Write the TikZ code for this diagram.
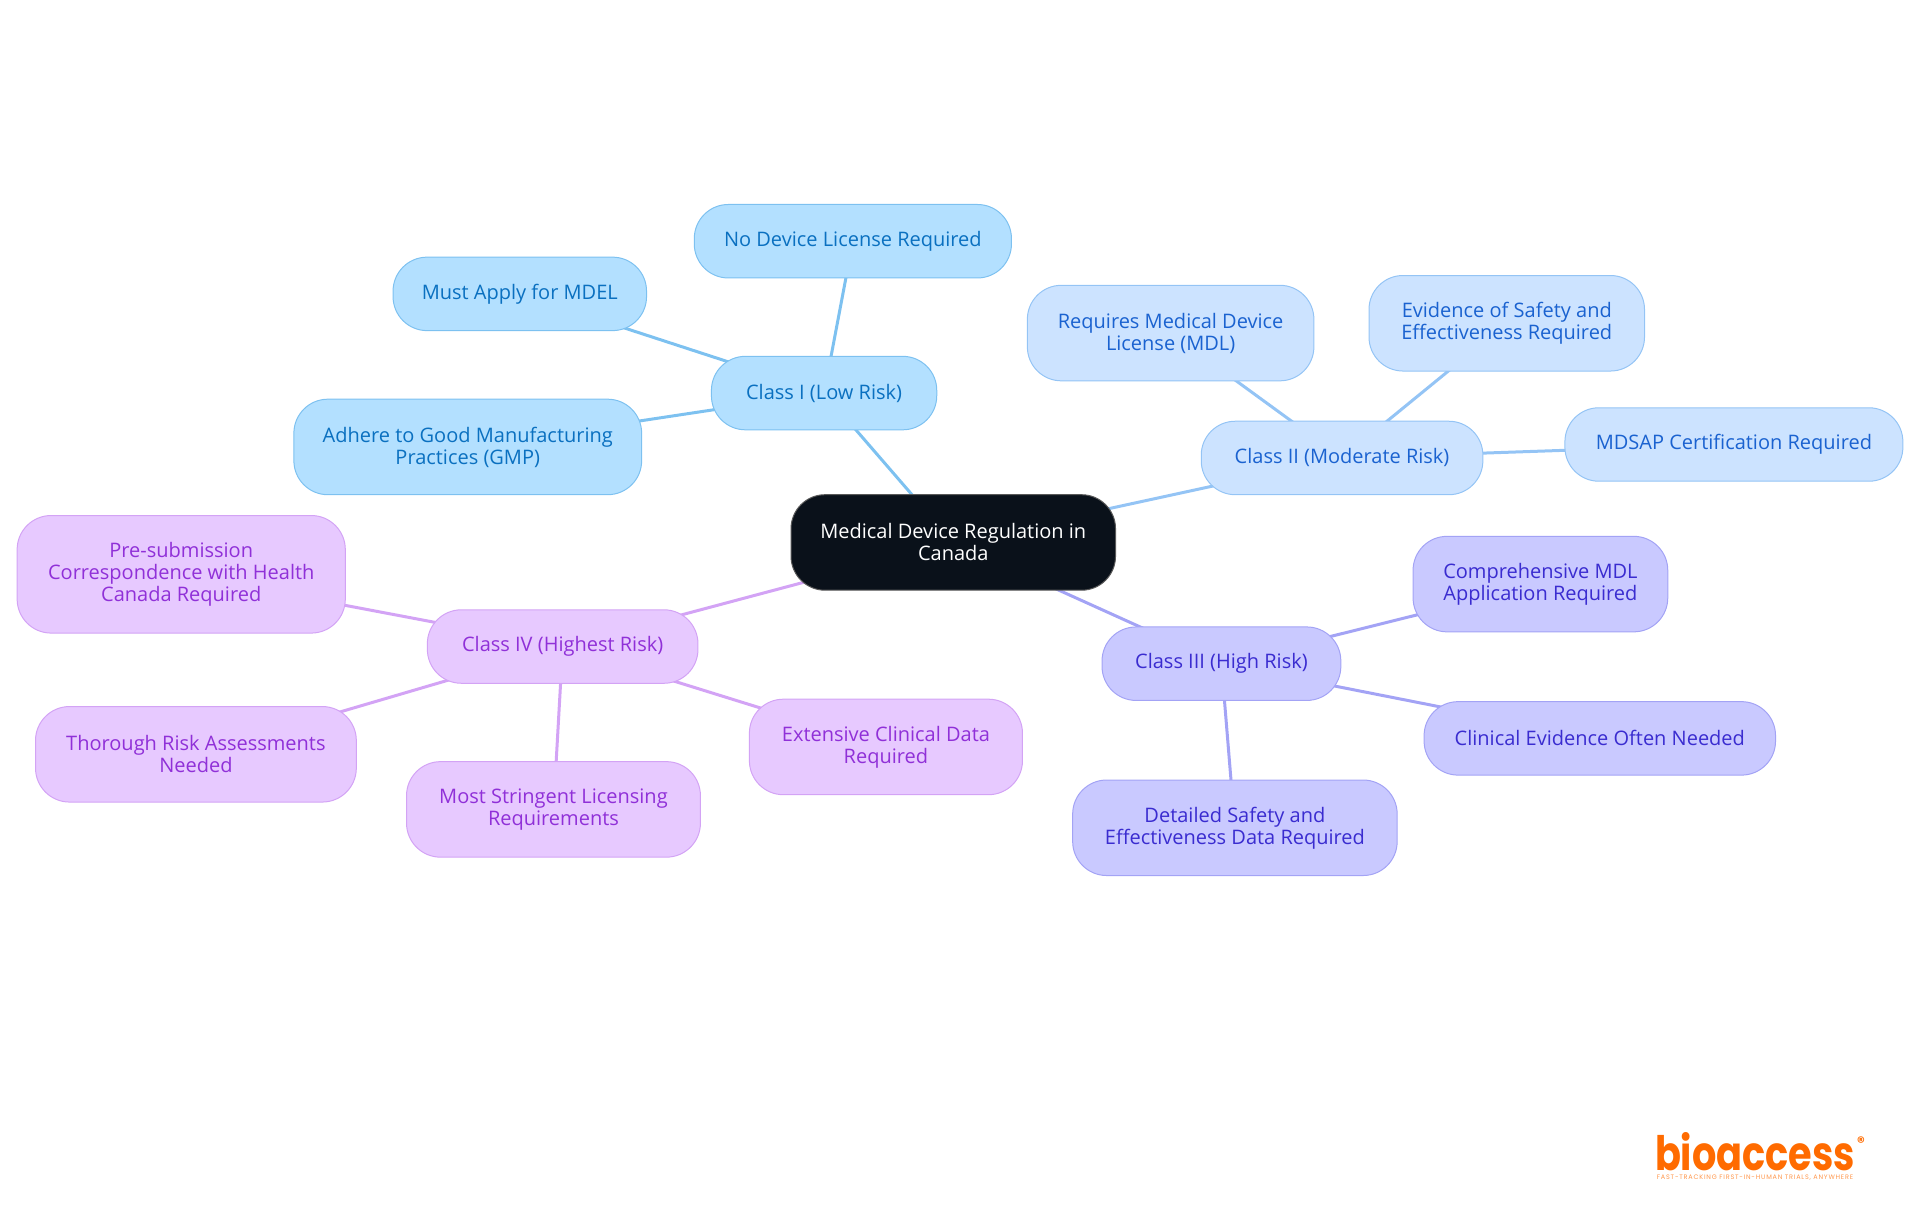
\documentclass[tikz,border=0pt]{standalone}
\usepackage{fontspec}
\setmainfont{Open Sans}
\newfontfamily\logofont{Poppins}
\newfontfamily\tagfont[LetterSpace=12]{Poppins}
\usetikzlibrary{backgrounds}
\definecolor{rootfill}{HTML}{0A111A}
\definecolor{fa}{HTML}{B3E0FF}\definecolor{la}{HTML}{7DC1F0}\definecolor{ta}{HTML}{0A70C0}
\definecolor{fb}{HTML}{CCE3FF}\definecolor{lb}{HTML}{94C4F5}\definecolor{tb}{HTML}{1A62D0}
\definecolor{fc}{HTML}{C9C9FF}\definecolor{lc}{HTML}{A3A3F5}\definecolor{tc}{HTML}{3A2CD0}
\definecolor{fd}{HTML}{E7C9FF}\definecolor{ld}{HTML}{D3A3F5}\definecolor{td}{HTML}{9030D8}
\definecolor{logoc}{HTML}{FF6B00}
\tikzset{
 box/.style={draw,line width=1pt,rounded corners=34pt,align=center,inner sep=0pt,anchor=center,
   font=\fontsize{20}{22}\selectfont},
 rootbox/.style={box,fill=rootfill,draw=gray!70!black,text=white},
 ca/.style={box,fill=fa,draw=la,text=ta},
 cb/.style={box,fill=fb,draw=lb,text=tb},
 cc/.style={box,fill=fc,draw=lc,text=tc},
 cd/.style={box,fill=fd,draw=ld,text=td},
 ea/.style={la,line width=3pt},eb/.style={lb,line width=3pt},ec/.style={lc,line width=3pt},ed/.style={ld,line width=3pt}
}
\newcommand{\bx}[8]{% name style x1 x2 y1 y2 (shrunk coords) text
 \node[#2,minimum width={(#4-#3)*1.2245pt},minimum height={(#6-#5)*1.2245pt}] (#1) at ({(#3+#4)/2*1.2245},{(#5+#6)/2*1.2245}) {#7};}
\begin{document}
\begin{tikzpicture}[x=1pt,y=-1pt]
\useasboundingbox (0,0) rectangle (1920,1215);
\bx{root}{rootbox}{646}{911}{404}{482}{Medical Device Regulation in\\Canada}{}
\bx{a}{ca}{581}{765}{291}{351}{Class I (Low Risk)}{}
\bx{a1}{ca}{567}{826}{167}{227}{No Device License Required}{}
\bx{a2}{ca}{321}{528}{210}{270}{Must Apply for MDEL}{}
\bx{a3}{ca}{240}{524}{326}{404}{Adhere to Good Manufacturing\\Practices (GMP)}{}
\bx{b}{cb}{981}{1211}{344}{404}{Class II (Moderate Risk)}{}
\bx{b1}{cb}{839}{1073}{233}{311}{Requires Medical Device\\License (MDL)}{}
\bx{b2}{cb}{1118}{1343}{225}{303}{Evidence of Safety and\\Effectiveness Required}{}
\bx{b3}{cb}{1278}{1554}{333}{393}{MDSAP Certification Required}{}
\bx{c}{cc}{900}{1095}{512}{572}{Class III (High Risk)}{}
\bx{c1}{cc}{1154}{1362}{438}{516}{Comprehensive MDL\\Application Required}{}
\bx{c2}{cc}{1163}{1450}{573}{633}{Clinical Evidence Often Needed}{}
\bx{c3}{cc}{876}{1141}{637}{715}{Detailed Safety and\\Effectiveness Data Required}{}
\bx{d}{cd}{349}{570}{498}{558}{Class IV (Highest Risk)}{}
\bx{d1}{cd}{14}{282}{421}{517}{Pre-submission\\Correspondence with Health\\Canada Required}{}
\bx{d2}{cd}{29}{291}{577}{655}{Thorough Risk Assessments\\Needed}{}
\bx{d3}{cd}{332}{572}{622}{700}{Most Stringent Licensing\\Requirements}{}
\bx{d4}{cd}{612}{835}{571}{649}{Extensive Clinical Data\\Required}{}
\begin{scope}[on background layer]
\draw[ea] (root.center)--(a.center);
\draw[ea] (a.center)--(a1.center); \draw[ea] (a.center)--(a2.center); \draw[ea] (a.center)--(a3.center);
\draw[eb] (root.center)--(b.center);
\draw[eb] (b.center)--(b1.center); \draw[eb] (b.center)--(b2.center); \draw[eb] (b.center)--(b3.center);
\draw[ec] (root.center)--(c.center);
\draw[ec] (c.center)--(c1.center); \draw[ec] (c.center)--(c2.center); \draw[ec] (c.center)--(c3.center);
\draw[ed] (root.center)--(d.center);
\draw[ed] (d.center)--(d1.center); \draw[ed] (d.center)--(d2.center); \draw[ed] (d.center)--(d3.center); \draw[ed] (d.center)--(d4.center);
\end{scope}
\node[text=logoc,inner sep=0pt,anchor=base,font=\logofont\bfseries\fontsize{40}{40}\selectfont] (logo) at (1755,1170) {\resizebox{200pt}{38pt}{bioaccess}};
\node[text=logoc,inner sep=0pt,font=\logofont\bfseries\fontsize{15}{15}\selectfont] (reg) at (1861,1142) {®};
\node[text=logoc!70,inner sep=0pt,font=\tagfont\fontsize{6.5}{7}\selectfont] (tag) at (1755,1178) {FAST-TRACKING FIRST-IN-HUMAN TRIALS, ANYWHERE};
\end{tikzpicture}
\end{document}
